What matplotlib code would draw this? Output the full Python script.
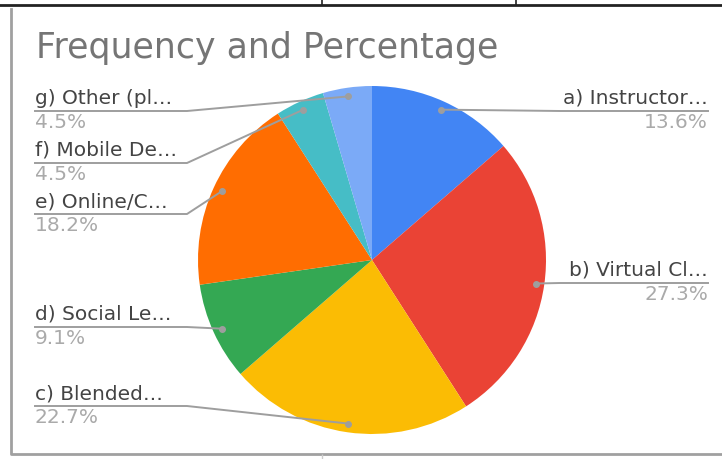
import numpy as np
import matplotlib.pyplot as plt

# responses per option (22 total)
labels = ["a) Instructor…", "b) Virtual Cl…", "c) Blended…", "d) Social Le…",
          "e) Online/C…", "f) Mobile De…", "g) Other (pl…"]
counts = [3, 6, 5, 2, 4, 1, 1]
colors = ["#4285F4", "#EA4335", "#FBBC04", "#34A853", "#FF6D01", "#46BDC6", "#7BAAF7"]

# label layout (pixel rows of the underline, measured from top)
sides = ["R", "R", "L", "L", "L", "L", "L"]
underline_y = [111, 283, 406, 327, 214, 163, 111]

W, H = 722, 459
plt.rcParams['font.family'] = ['DejaVu Sans']
fig = plt.figure(figsize=(W / 100, H / 100), dpi=100)
ax = fig.add_axes([0, 0, 1, 1])

def py(y):
    return H - y

cx, cy, r = 372, py(260), 174
wedges, _ = ax.pie(counts, colors=colors, startangle=90, counterclock=False,
                   radius=r, center=(cx, cy), frame=True,
                   wedgeprops=dict(linewidth=0))
ax.set_xlim(0, W)
ax.set_ylim(0, H)
ax.set_aspect('equal')
ax.axis('off')

# sheet gridlines and chart border
ax.plot([0, W], [py(5), py(5)], color="#222222", lw=2)
for x in [322, 516]:
    ax.plot([x, x], [py(0), py(5)], color="#222222", lw=1.2)
ax.plot([11, 11, W], [py(9), py(454), py(454)], color="#a0a0a0", lw=2)
ax.plot(322, py(457), '|', color="#cccccc", ms=4)

ax.text(36, py(48), "Frequency and Percentage", fontsize=25, color="#757575",
        ha='left', va='center')

total = sum(counts)
for w, lab, n, side, uy in zip(wedges, labels, counts, sides, underline_y):
    mid = np.deg2rad((w.theta1 + w.theta2) / 2)
    dx, dy = cx + 0.95 * r * np.cos(mid), cy + 0.95 * r * np.sin(mid)
    pct = f"{100 * n / total:.1f}%"
    if side == "R":
        ex, tx, ha = 560, 708, 'right'
    else:
        ex, tx, ha = 187, 35, 'left'
    ax.plot([dx, ex, tx], [dy, py(uy), py(uy)], color="#9e9e9e", lw=1.4,
            solid_joinstyle='round')
    ax.plot(dx, dy, 'o', color="#9e9e9e", ms=4)
    ax.text(tx, py(uy) + 3, lab, fontsize=14.5, color="#444444", ha=ha, va='bottom')
    ax.text(tx, py(uy) - 2, pct, fontsize=14.5, color="#aaaaaa", ha=ha, va='top')

fig.savefig("out.png", dpi=100)
